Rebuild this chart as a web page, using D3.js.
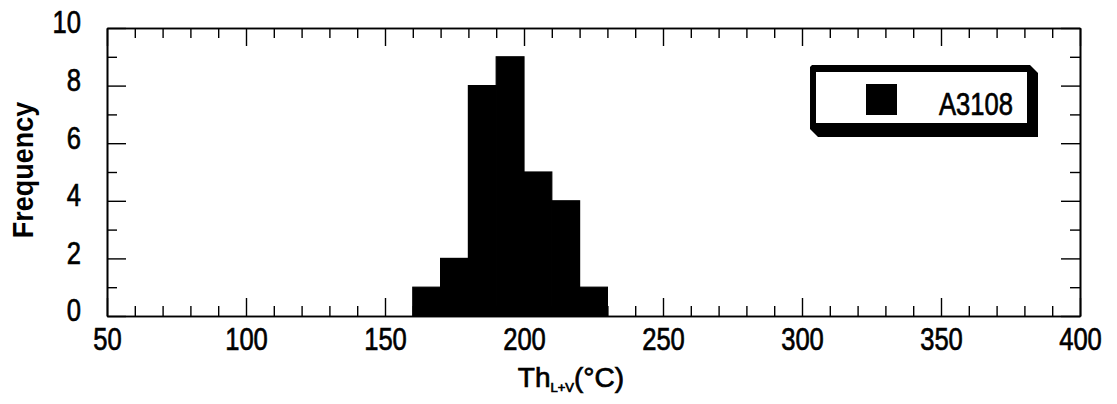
<!DOCTYPE html>
<html><head><meta charset="utf-8">
<script src="https://cdn.jsdelivr.net/npm/d3@7"></script>
<style>body{margin:0;background:#fff}svg{display:block}</style>
</head><body>
<svg id="c" width="1117" height="404"></svg>
<script>
const binStarts = [160,170,180,190,200,210,220];
const binWidth = 10;
const counts = [1,2,8,9,5,4,1];
const xMajor = [50,100,150,200,250,300,350,400];
const xMinor = [60,70,80,90,110,120,130,140,160,170,180,190,210,220,230,240,260,270,280,290,310,320,330,340,360,370,380,390];
const yMajor = [0,2,4,6,8,10];
const yMinor = [1,3,5,7,9];
const seriesName = "A3108";

const svg = d3.select("#c");
const L=107,R=1080,T=28,B=316;
const x = d3.scaleLinear().domain([50,400]).range([L,R]);
const y = d3.scaleLinear().domain([0,10]).range([B,T]);
const SX = 0.8;
const font = "'Liberation Sans', Arial, sans-serif";

// bars
svg.append("g").selectAll("rect").data(binStarts).join("rect")
  .attr("x",(d)=>x(d)).attr("width",(d)=>x(d+binWidth)-x(d))
  .attr("y",(d,i)=>y(counts[i])).attr("height",(d,i)=>y(0)-y(counts[i]))
  .attr("fill","#000").attr("stroke","#000").attr("stroke-width",1.2);

function styleAxis(g){
  g.select(".domain").attr("stroke","#000").attr("stroke-width",1.6);
  g.selectAll(".tick line").attr("stroke","#000").attr("stroke-width",1.4);
}
function thick(sel){ sel.attr("stroke","#000").attr("stroke-width",0.7).attr("paint-order","stroke"); }
// bottom
const gb = svg.append("g").attr("transform",`translate(0,${B})`)
  .call(d3.axisBottom(x).tickValues(xMajor).tickSize(-18).tickPadding(11).tickSizeOuter(0));
styleAxis(gb);
gb.selectAll("text").attr("font-family",font).attr("font-size",32).attr("fill","#000")
  .attr("transform",`scale(${SX},1)`).call(thick);
svg.append("g").attr("transform",`translate(0,${B})`)
  .call(d3.axisBottom(x).tickValues(xMinor).tickSize(-10).tickFormat("").tickSizeOuter(0))
  .call(styleAxis);
// top
svg.append("g").attr("transform",`translate(0,${T})`)
  .call(d3.axisTop(x).tickValues(xMajor).tickSize(-18).tickFormat("").tickSizeOuter(0)).call(styleAxis);
svg.append("g").attr("transform",`translate(0,${T})`)
  .call(d3.axisTop(x).tickValues(xMinor).tickSize(-10).tickFormat("").tickSizeOuter(0)).call(styleAxis);
// left
const gl = svg.append("g").attr("transform",`translate(${L},0)`)
  .call(d3.axisLeft(y).tickValues(yMajor).tickSize(-19).tickPadding(26).tickSizeOuter(0));
styleAxis(gl);
gl.selectAll("text").attr("font-family",font).attr("font-size",32).attr("fill","#000")
  .attr("dy","0.15em").attr("x",-26/SX).attr("transform",`scale(${SX},1)`).call(thick);
svg.append("g").attr("transform",`translate(${L},0)`)
  .call(d3.axisLeft(y).tickValues(yMinor).tickSize(-10).tickFormat("").tickSizeOuter(0)).call(styleAxis);
// right
svg.append("g").attr("transform",`translate(${R},0)`)
  .call(d3.axisRight(y).tickValues(yMajor).tickSize(-19).tickFormat("").tickSizeOuter(0)).call(styleAxis);
svg.append("g").attr("transform",`translate(${R},0)`)
  .call(d3.axisRight(y).tickValues(yMinor).tickSize(-10).tickFormat("").tickSizeOuter(0)).call(styleAxis);

// axis titles
svg.append("text").attr("transform","translate(33,170) rotate(-90) scale(0.9,1)")
  .attr("text-anchor","middle").attr("font-family",font).attr("font-weight","bold")
  .attr("font-size",30).attr("fill","#000").text("Frequency");
const xt = svg.append("text").attr("x",571).attr("y",387).attr("text-anchor","middle")
  .attr("font-family",font).attr("font-size",28).attr("fill","#000").call(thick);
xt.append("tspan").text("Th");
xt.append("tspan").attr("font-size",13).attr("dy",5).text("L+V");
xt.append("tspan").attr("dy",-5).text("(°C)");

// legend
const lg = svg.append("g");
lg.append("path").attr("d","M810,67 L812,65 L1030,65 L1038,73 L1038,137 L818,137 L810,129 Z").attr("fill","#000");
lg.append("rect").attr("x",816).attr("y",72).attr("width",211).attr("height",51).attr("fill","#fff");
lg.append("rect").attr("x",866).attr("y",84).attr("width",31).attr("height",31).attr("fill","#000");
lg.append("text").attr("transform","translate(1013,115) scale(0.8,1)").attr("text-anchor","end")
  .attr("font-family",font).attr("font-size",32).attr("fill","#000").call(thick).text(seriesName);
</script>
</body></html>
